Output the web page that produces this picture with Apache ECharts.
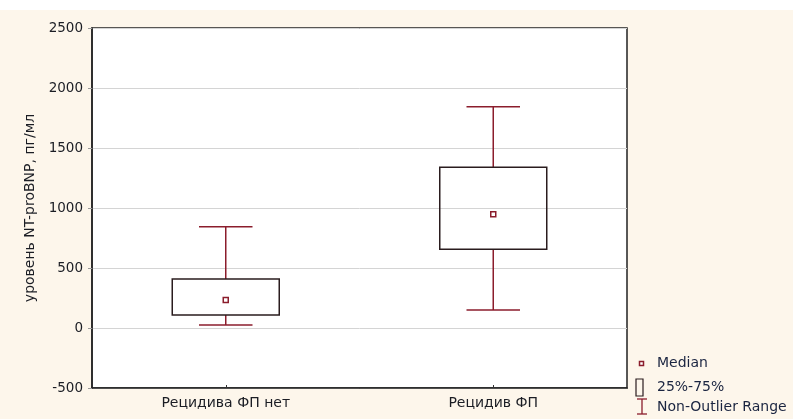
<!DOCTYPE html>
<html><head><meta charset="utf-8">
<script src="https://cdn.jsdelivr.net/npm/echarts@6/dist/echarts.min.js"></script>
<style>html,body{margin:0;padding:0;background:#fff}#c{width:793px;height:419px}</style>
</head><body><div id="c"></div>
<script>
const categories = ['Рецидива ФП нет', 'Рецидив ФП'];
const whiskerMin = [25, 150];
const q1 = [108, 656];
const median = [233, 947];
const q3 = [408, 1339];
const whiskerMax = [844, 1844];
const yTicks = [-500, 0, 500, 1000, 1500, 2000, 2500];

const red = '#8b1d2c';
const boxData = categories.map((c, i) => [i, whiskerMin[i], q1[i], median[i], q3[i], whiskerMax[i]]);
const font = '"DejaVu Sans", sans-serif';
const txt = '#1b1d24';

const chart = echarts.init(document.getElementById('c'));
chart.setOption({
  backgroundColor: '#fdf6eb',
  animation: false,
  grid: {left: 92, right: 166, top: 28, bottom: 31, show: true, backgroundColor: '#fff', borderColor: '#222', borderWidth: 1.5},
  xAxis: {
    type: 'category', data: categories,
    axisLine: {show: true, onZero: false, lineStyle: {color: '#222', width: 1.5}},
    axisTick: {show: true, inside: true, alignWithLabel: true, length: 3, lineStyle: {color: '#333'}},
    axisLabel: {color: txt, fontSize: 14, fontFamily: font, margin: 8},
    splitLine: {show: false}
  },
  yAxis: {
    type: 'value', min: yTicks[0], max: yTicks[yTicks.length - 1], interval: 500,
    name: 'уровень NT-proBNP, пг/мл', nameLocation: 'middle', nameGap: 50, nameRotate: 90,
    nameTextStyle: {color: txt, fontSize: 14, fontFamily: font},
    axisLine: {show: true, lineStyle: {color: '#222', width: 1.5}},
    axisTick: {show: true, length: 4, lineStyle: {color: '#999'}},
    axisLabel: {color: txt, fontSize: 13.5, fontFamily: font, margin: 9, formatter: v => String(v)},
    splitLine: {show: true, lineStyle: {color: '#d4d4d4', width: 1}}
  },
  series: [{
    type: 'custom',
    data: boxData,
    encode: {x: 0, y: [1, 2, 3, 4, 5]},
    renderItem: function (params, api) {
      const x = api.value(0);
      const band = api.size([1, 0])[0];
      const bw = band * 0.4, cw = band * 0.2;
      const pMin = api.coord([x, api.value(1)]);
      const pQ1 = api.coord([x, api.value(2)]);
      const pMed = api.coord([x, api.value(3)]);
      const pQ3 = api.coord([x, api.value(4)]);
      const pMax = api.coord([x, api.value(5)]);
      const cx = pMed[0];
      const ls = {stroke: red, lineWidth: 1.5};
      return {type: 'group', children: [
        {type: 'line', shape: {x1: cx, y1: pMax[1], x2: cx, y2: pQ3[1]}, style: ls},
        {type: 'line', shape: {x1: cx - cw / 2, y1: pMax[1], x2: cx + cw / 2, y2: pMax[1]}, style: ls},
        {type: 'line', shape: {x1: cx, y1: pQ1[1], x2: cx, y2: pMin[1]}, style: ls},
        {type: 'line', shape: {x1: cx - cw / 2, y1: pMin[1], x2: cx + cw / 2, y2: pMin[1]}, style: ls},
        {type: 'rect', shape: {x: cx - bw / 2, y: pQ3[1], width: bw, height: pQ1[1] - pQ3[1]}, style: {fill: 'rgba(0,0,0,0)', stroke: '#2a1c1e', lineWidth: 1.5}},
        {type: 'rect', shape: {x: cx - 2.5, y: pMed[1] - 2.5, width: 5, height: 5}, style: {fill: '#fff', stroke: red, lineWidth: 1.5}}
      ]};
    }
  }],
  graphic: [
    {type: 'rect', left: 0, top: 0, shape: {width: 793, height: 10}, style: {fill: '#fff'}},
    {type: 'rect', shape: {x: 639.5, y: 361.5, width: 4, height: 4}, style: {fill: '#fff', stroke: red, lineWidth: 1.5}},
    {type: 'text', x: 657, y: 363, style: {text: 'Median', fill: '#1a2440', font: '14px ' + font, verticalAlign: 'middle'}},
    {type: 'rect', shape: {x: 636, y: 379, width: 7, height: 17}, style: {fill: 'rgba(0,0,0,0)', stroke: '#2a1c1e', lineWidth: 1.2}},
    {type: 'text', x: 657, y: 387, style: {text: '25%-75%', fill: '#1a2440', font: '14px ' + font, verticalAlign: 'middle'}},
    {type: 'line', shape: {x1: 637, y1: 399, x2: 647, y2: 399}, style: {stroke: red, lineWidth: 1.3}},
    {type: 'line', shape: {x1: 642, y1: 399, x2: 642, y2: 414}, style: {stroke: red, lineWidth: 1.3}},
    {type: 'line', shape: {x1: 637, y1: 414, x2: 647, y2: 414}, style: {stroke: red, lineWidth: 1.3}},
    {type: 'text', x: 657, y: 407, style: {text: 'Non-Outlier Range', fill: '#1a2440', font: '14px ' + font, verticalAlign: 'middle'}}
  ]
});
</script></body></html>
